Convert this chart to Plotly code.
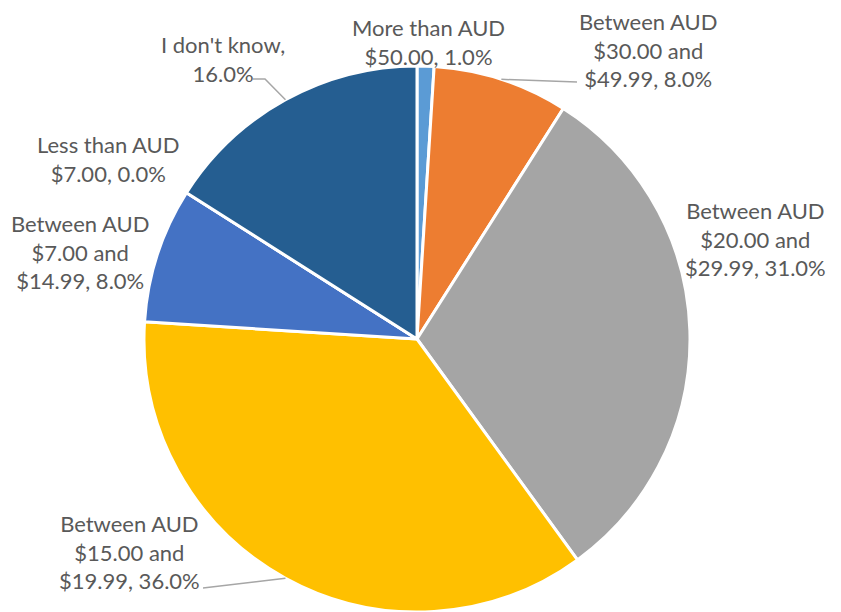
import math
import plotly.graph_objects as go

labels = ["More than AUD $50.00", "Between AUD $30.00 and $49.99", "Between AUD $20.00 and $29.99",
          "Between AUD $15.00 and $19.99", "Between AUD $7.00 and $14.99", "Less than AUD $7.00",
          "I don't know"]
values = [1.0, 8.0, 31.0, 36.0, 8.0, 0.0, 16.0]
label_text = ["More than AUD<br>$50.00, {v:.1f}%", "Between AUD<br>$30.00 and<br>$49.99, {v:.1f}%",
              "Between AUD<br>$20.00 and<br>$29.99, {v:.1f}%", "Between AUD<br>$15.00 and<br>$19.99, {v:.1f}%",
              "Between AUD<br>$7.00 and<br>$14.99, {v:.1f}%", "Less than AUD<br>$7.00, {v:.1f}%",
              "I don't know,<br>{v:.1f}%"]
colors = ["#5B9BD5", "#ED7D31", "#A5A5A5", "#FFC000", "#4472C4", "#70AD47", "#255E91"]

# page has an 8px body margin; figure is sized to the visible area
OFF = 8
W, H = 841 - OFF, 612 - OFF
CX, CY, R = 417, 339, 273

def px(x):
    return (x - OFF) / W

def py(y):
    return 1 - (y - OFF) / H

# label centre positions (screen pixels)
label_pos = [(428, 42), (648, 50), (755, 239), (130, 552), (80, 252), (108, 159), (223, 59)]

fig = go.Figure(go.Pie(
    labels=labels, values=values, sort=False, direction="clockwise", rotation=0,
    marker=dict(colors=colors, line=dict(color="white", width=3)),
    textinfo="none", hoverinfo="label+percent", showlegend=False,
    domain=dict(x=[px(CX - R), px(CX + R)], y=[max(0, py(CY + R)), py(CY - R)]),
))

anns = []
for t, v, (lx, ly) in zip(label_text, values, label_pos):
    anns.append(dict(x=px(lx), y=py(ly), xref="paper", yref="paper", text=t.format(v=v),
                     showarrow=False, xanchor="center", yanchor="middle", align="center",
                     font=dict(family="Lato", size=22, color="#595959")))

# leader lines: from label side to slice mid-angle on the rim
total = sum(values)
cum = 0
mids = []
for v in values:
    mids.append((cum + v / 2) / total * 2 * math.pi)
    cum += v

def rim(i):
    a = mids[i]
    return CX + R * math.sin(a), CY - R * math.cos(a)

shapes = []
leaders = {6: [(253, 79), (265, 79)], 1: [(577, 82)], 3: [(203, 588)]}
for i, pts in leaders.items():
    rx, ry = rim(i)
    allpts = pts + [(rx, ry)]
    path = "M " + " L ".join(f"{px(x)},{py(y)}" for x, y in allpts)
    shapes.append(dict(type="path", xref="paper", yref="paper", path=path,
                       line=dict(color="#A6A6A6", width=1.5)))

fig.update_layout(width=W, height=H, margin=dict(l=0, r=0, t=0, b=0),
                  paper_bgcolor="white", plot_bgcolor="white",
                  annotations=anns, shapes=shapes)
fig.write_html("out.html")
